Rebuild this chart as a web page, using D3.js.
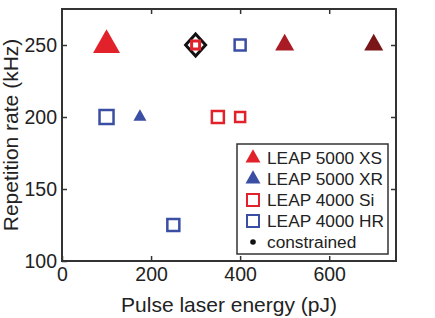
<!DOCTYPE html>
<html>
<head>
<meta charset="utf-8">
<script src="https://cdn.jsdelivr.net/npm/d3@7"></script>
<style>
  body { margin: 0; background: #fff; }
  text { font-family: "Liberation Sans", Arial, sans-serif; fill: #222; }
</style>
</head>
<body>
<svg id="chart" width="435" height="318"></svg>
<script>
// data
const xsEnergy = [100, 500, 700];
const xsRate = [250, 250, 250];
const xrEnergy = [175];
const xrRate = [200];
const siEnergy = [300, 350, 400];
const siRate = [250, 200, 200];
const hrEnergy = [100, 400, 250];
const hrRate = [200, 250, 125];
const constrainedEnergy = [300];
const constrainedRate = [250];

const xTicks = [0, 200, 400, 600];
const yTicks = [100, 150, 200, 250];
const legendLabels = ["LEAP 5000 XS", "LEAP 5000 XR", "LEAP 4000 Si", "LEAP 4000 HR", "constrained"];

// styles
const red = "#e2222b", blue = "#3a4ea3";
const xsColors = ["#e2222b", "#a91c25", "#7a1518"];
const xsWidth = [27, 19, 19];
const siSize = [8, 12, 10];
const hrSize = [14, 11, 12];

const margin = {top: 9, right: 39, bottom: 57, left: 62};
const width = 435 - margin.left - margin.right;
const height = 318 - margin.top - margin.bottom;

const svg = d3.select("#chart");
const g = svg.append("g").attr("transform", `translate(${margin.left},${margin.top})`);

const x = d3.scaleLinear().domain([0, 750]).range([0, width]);
const y = d3.scaleLinear().domain([100, 275]).range([height, 0]);

function triangle(w){
    let h = w * 0.88;
    return `M0,${-h*2/3}L${w/2},${h/3}L${-w/2},${h/3}Z`;
}

// axes (ticks inward, mirrored)
const axisStyle = sel => {
    sel.select(".domain").remove();
    sel.selectAll(".tick line").attr("stroke", "#333").attr("stroke-width", 1.5);
    sel.selectAll(".tick text").attr("font-size", 19.5).attr("fill", "#222")
        .attr("font-family", "Liberation Sans, Arial, sans-serif");
};
g.append("g").attr("transform", `translate(0,${height})`)
    .call(d3.axisBottom(x).tickValues(xTicks).tickSize(-5).tickPadding(6))
    .call(axisStyle);
g.append("g")
    .call(d3.axisLeft(y).tickValues(yTicks).tickSize(-5).tickPadding(5))
    .call(axisStyle);
g.append("g")
    .call(d3.axisTop(x).tickValues(xTicks.slice(1)).tickSize(-5).tickFormat(""))
    .call(axisStyle);
g.append("g").attr("transform", `translate(${width},0)`)
    .call(d3.axisRight(y).tickValues(yTicks.slice(1)).tickSize(-5).tickFormat(""))
    .call(axisStyle);

g.append("rect").attr("width", width).attr("height", height)
    .attr("fill", "none").attr("stroke", "#333").attr("stroke-width", 2);

// constrained diamond
g.selectAll(".constrained").data(constrainedEnergy).join("path")
    .attr("class", "constrained")
    .attr("transform", (d, i) => `translate(${x(d)},${y(constrainedRate[i])})`)
    .attr("d", "M0,-11L10,0L0,11L-10,0Z")
    .attr("fill", "#fff").attr("stroke", "#111").attr("stroke-width", 3);

// LEAP 4000 Si squares
g.selectAll(".si").data(siEnergy).join("rect")
    .attr("class", "si")
    .attr("x", (d, i) => x(d) - siSize[i] / 2)
    .attr("y", (d, i) => y(siRate[i]) - siSize[i] / 2)
    .attr("width", (d, i) => siSize[i]).attr("height", (d, i) => siSize[i])
    .attr("fill", "#fff").attr("stroke", red).attr("stroke-width", (d, i) => i === 0 ? 3 : 2.5);

// LEAP 4000 HR squares
g.selectAll(".hr").data(hrEnergy).join("rect")
    .attr("class", "hr")
    .attr("x", (d, i) => x(d) - hrSize[i] / 2)
    .attr("y", (d, i) => y(hrRate[i]) - hrSize[i] / 2)
    .attr("width", (d, i) => hrSize[i]).attr("height", (d, i) => hrSize[i])
    .attr("fill", "#fff").attr("stroke", blue).attr("stroke-width", 2.5);

// LEAP 5000 XS triangles
g.selectAll(".xs").data(xsEnergy).join("path")
    .attr("class", "xs")
    .attr("transform", (d, i) => `translate(${x(d)},${y(xsRate[i])})`)
    .attr("d", (d, i) => triangle(xsWidth[i]))
    .attr("fill", (d, i) => xsColors[i]);

// LEAP 5000 XR triangle
g.selectAll(".xr").data(xrEnergy).join("path")
    .attr("class", "xr")
    .attr("transform", (d, i) => `translate(${x(d)},${y(xrRate[i])})`)
    .attr("d", triangle(13))
    .attr("fill", blue);

// legend
const legend = g.append("g").attr("transform", `translate(${237 - margin.left},${144 - margin.top})`);
legend.append("rect").attr("width", 151).attr("height", 110)
    .attr("fill", "#fff").attr("stroke", "#333").attr("stroke-width", 1.5);
const rows = legend.selectAll(".row").data(legendLabels).join("g")
    .attr("class", "row")
    .attr("transform", (d, i) => `translate(16,${14 + i * 21})`);
rows.each(function(d, i){
    let r = d3.select(this);
    if(i === 0) r.append("path").attr("d", triangle(15)).attr("fill", red);
    if(i === 1) r.append("path").attr("d", triangle(15)).attr("fill", blue);
    if(i === 2) r.append("rect").attr("x", -6).attr("y", -6).attr("width", 12).attr("height", 12)
        .attr("fill", "#fff").attr("stroke", red).attr("stroke-width", 2);
    if(i === 3) r.append("rect").attr("x", -6).attr("y", -6).attr("width", 12).attr("height", 12)
        .attr("fill", "#fff").attr("stroke", blue).attr("stroke-width", 2);
    if(i === 4) r.append("circle").attr("r", 2.8).attr("fill", "#111");
});
rows.append("text").attr("x", 14).attr("dy", "0.35em")
    .attr("font-size", 17.3).text(d => d);

// axis labels
g.append("text")
    .attr("x", width / 2).attr("y", height + 51)
    .attr("text-anchor", "middle").attr("font-size", 21)
    .text("Pulse laser energy (pJ)");
g.append("text")
    .attr("transform", `translate(${11 - margin.left + 7},${135 - margin.top}) rotate(-90)`)
    .attr("text-anchor", "middle").attr("font-size", 21)
    .text("Repetition rate (kHz)");
</script>
</body>
</html>
